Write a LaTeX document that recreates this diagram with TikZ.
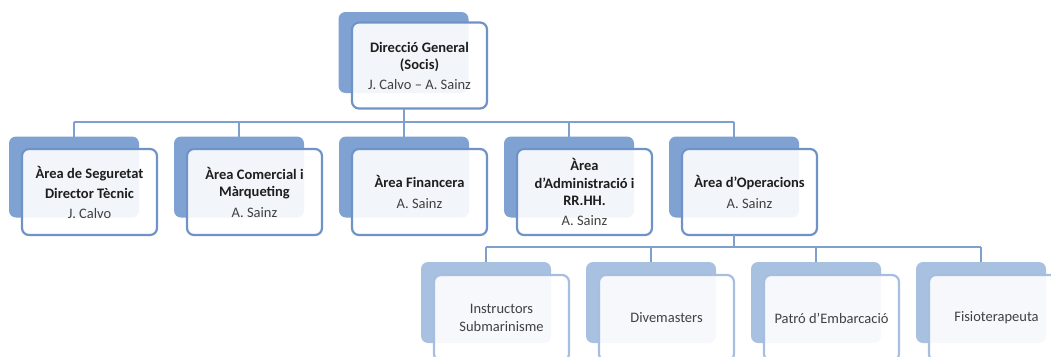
\documentclass[tikz,border=0pt]{standalone}
\usepackage{fontspec}
\setmainfont{Carlito}
\definecolor{backc}{HTML}{7FA2D2}
\definecolor{bordc}{HTML}{6F93C7}
\definecolor{lbackc}{HTML}{A9C1E1}
\definecolor{lbordc}{HTML}{A6BEDF}
\definecolor{connc}{HTML}{7F9FCD}
\definecolor{titc}{HTML}{1E1E1E}
\definecolor{namec}{HTML}{404040}
\newcommand{\tit}[1]{\textbf{\textcolor{titc}{#1}}}
\newcommand{\nm}[1]{\textcolor{namec}{#1}}
\begin{document}
\begin{tikzpicture}[x=1pt,y=-1pt,
  backbox/.style={rounded corners=7pt, fill=backc, minimum width=130pt, minimum height=81pt, inner sep=0pt, outer sep=0pt},
  lbackbox/.style={backbox, fill=lbackc},
  frontbox/.style={draw=bordc, line width=2.2pt, rounded corners=7pt, fill=white, fill opacity=0.9, text opacity=1,
    minimum width=135pt, minimum height=86pt, align=center, inner sep=0pt, outer sep=0pt,
    font=\fontsize{14.5}{17.5}\selectfont, text=namec},
  lfrontbox/.style={frontbox, draw=lbordc},
  conn/.style={draw=connc, line width=2pt}]
\useasboundingbox (0,0) rectangle (1051,356);
\clip (0,0) rectangle (1051,356);
\coordinate (bus1) at (0,122);
\coordinate (bus2) at (0,247);

% back boxes
\node[backbox] (tb) at (403.5,52.5) {};
\foreach \i in {1,...,5} {
  \node[backbox] (b\i) at ({74+165*(\i-1)},177) {};
}
\foreach \i in {1,...,4} {
  \node[lbackbox] (c\i) at ({486+165*(\i-1)},302.5) {};
}

% front boxes
\node[frontbox] (tf) at (419.5,65.5) {\tit{Direcció General}\\\tit{(Socis)}\\[2pt]\nm{J. Calvo – A. Sainz}};
\node[frontbox] (f1) at (89.5,192) {\tit{Àrea de Seguretat}\\[3pt]\tit{Director Tècnic}\\[2pt]\nm{J. Calvo}};
\node[frontbox] (f2) at (254.5,192) {\tit{Àrea Comercial i}\\\tit{Màrqueting}\\[3pt]\nm{A. Sainz}};
\node[frontbox] (f3) at (419.5,192) {\tit{Àrea Financera}\\[4pt]\nm{A. Sainz}};
\node[frontbox] (f4) at (584.5,192) {\tit{Àrea}\\\tit{d’Administració i}\\\tit{RR.HH.}\\[2pt]\nm{A. Sainz}};
\node[frontbox] (f5) at (749.5,192) {\tit{Àrea d’Operacions}\\[4pt]\nm{A. Sainz}};

\node[lfrontbox] (g1) at (501.5,318) {Instructors\\Submarinisme};
\node[lfrontbox] (g2) at (666.5,318) {Divemasters};
\node[lfrontbox] (g3) at (831.5,318) {Patró d’Embarcació};
\node[lfrontbox] (g4) at (996.5,318) {Fisioterapeuta};

% connectors
\draw[conn] (tb.center |- tf.south) -- (tb.center |- bus1);
\draw[conn] (b1.north |- bus1) -- (b5.north |- bus1);
\foreach \i in {1,...,5} {
  \draw[conn] (b\i.north |- bus1) -- (b\i.north);
}
\draw[conn] (b5.center |- f5.south) -- (b5.center |- bus2);
\draw[conn] (c1.north |- bus2) -- (c4.north |- bus2);
\foreach \i in {1,...,4} {
  \draw[conn] (c\i.north |- bus2) -- (c\i.north);
}
\end{tikzpicture}
\end{document}
